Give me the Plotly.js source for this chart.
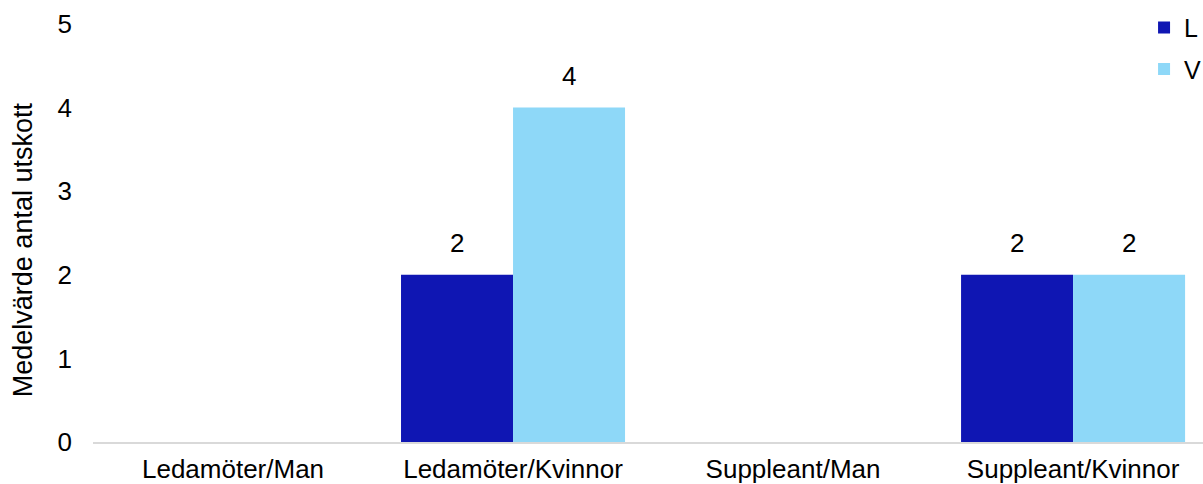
<!DOCTYPE html>
<html><head><meta charset="utf-8">
<script src="https://cdn.plot.ly/plotly-3.0.1.min.js"></script>
<style>html,body{margin:0;padding:0;background:#fff}</style>
</head><body>
<div id="chart" style="width:1203px;height:484px"></div>
<script>
const categories = ["Ledamöter/Man", "Ledamöter/Kvinnor", "Suppleant/Man", "Suppleant/Kvinnor"];
const seriesNames = ["L", "V"];
const valuesL = [0, 2, 0, 2];
const valuesV = [0, 4, 0, 2];
const yTicks = [0, 1, 2, 3, 4, 5];
const yTitle = "Medelvärde antal utskott";

const colors = ["#0F16B3", "#8ED8F8"];
const font = "Liberation Sans, Arial, Helvetica, sans-serif";
const fs = 26;
const series = [valuesL, valuesV];

const traces = series.map((vals, k) => ({
  type: "bar", name: seriesNames[k], x: categories, y: vals,
  legendgroup: "g" + k,
  marker: {color: colors[k], line: {width: 0}}, hoverinfo: "none"
}));

const annotations = [];
series.forEach((vals, k) => {
  vals.forEach((v, i) => {
    if (v) annotations.push({
      x: i + (k === 0 ? -0.2 : 0.2), y: v, xref: "x", yref: "y",
      text: String(v), showarrow: false, yanchor: "bottom", yshift: 15,
      font: {family: font, size: fs, color: "#000"}
    });
  });
});
// y-axis title (as annotation to match placement)
annotations.push({
  xref: "paper", yref: "paper", x: -0.063, y: 0.459,
  xanchor: "center", yanchor: "middle", textangle: -90,
  text: yTitle, showarrow: false,
  font: {family: font, size: 27, color: "#000"}
});

const layout = {
  width: 1203, height: 484,
  margin: {l: 93, r: 0, t: 24, b: 42, autoexpand: false},
  paper_bgcolor: "#fff", plot_bgcolor: "#fff",
  font: {family: font, size: fs, color: "#000"},
  barmode: "group", bargap: 0.2, bargroupgap: 0,
  showlegend: true,
  legend: {xref: "container", yref: "container", x: 0.951, xanchor: "left",
           y: 0.99, yanchor: "top",
           font: {family: font, size: 25}, tracegroupgap: 6, itemwidth: 30,
           bgcolor: "rgba(0,0,0,0)", traceorder: "grouped"},
  xaxis: {type: "category", range: [-0.5, 3.464], showgrid: false, zeroline: false,
          showline: true, linecolor: "#D9D9D9", linewidth: 2,
          ticks: "", ticklabelstandoff: 3, tickfont: {size: fs}},
  yaxis: {range: [0, 5], tickvals: yTicks, showgrid: false, zeroline: false,
          showline: false, ticks: "", ticklabelstandoff: 20, tickfont: {size: fs}},
  annotations: annotations
};

Plotly.newPlot("chart", traces, layout, {staticPlot: true});
</script>
</body></html>
